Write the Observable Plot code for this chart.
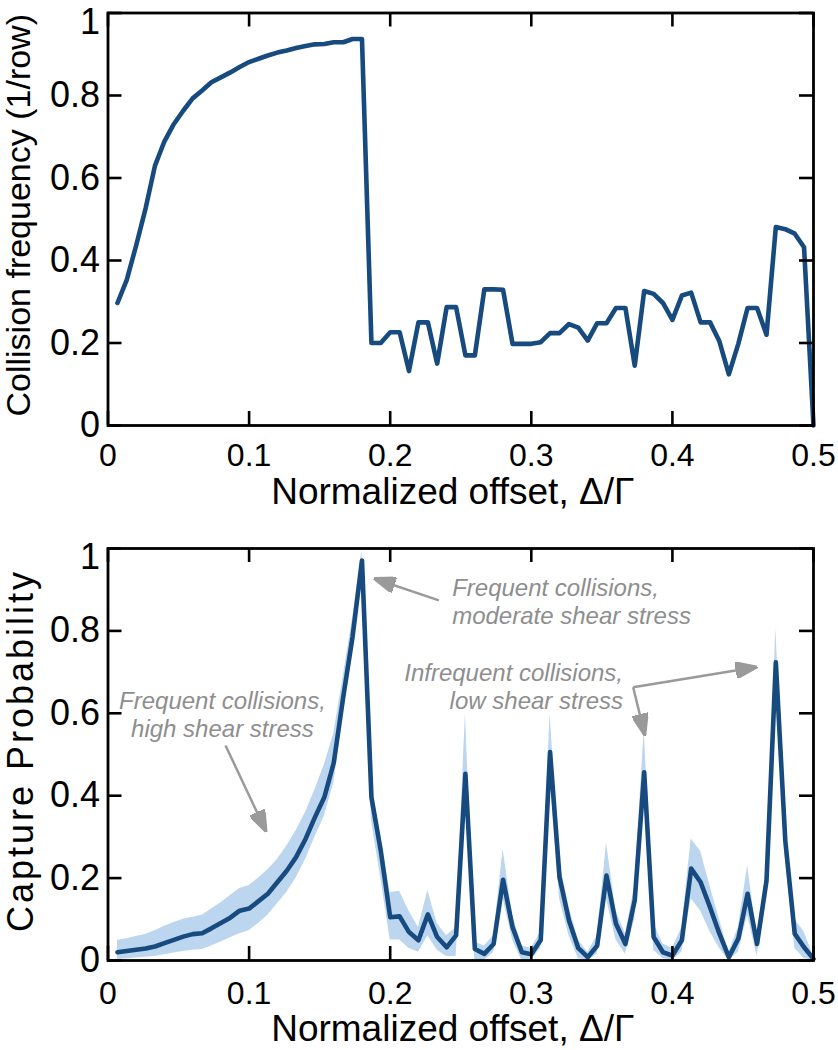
<!DOCTYPE html>
<html>
<head>
<meta charset="utf-8">
<script src="https://cdn.jsdelivr.net/npm/d3@7"></script>
<script src="https://cdn.jsdelivr.net/npm/@observablehq/plot@0.6"></script>
<style>
  html, body { margin: 0; padding: 0; background: #fff; }
  #chart { width: 838px; height: 1050px; }
  #chart svg { display: block; }
</style>
</head>
<body>
<div id="chart"></div>
<script>
// ---------- data ----------
const offset = [
  0.0067, 0.0133, 0.02, 0.0267, 0.0333, 0.04, 0.0467, 0.0533, 0.06, 0.0667,
  0.0733, 0.08, 0.0867, 0.0933, 0.1, 0.1067, 0.1133, 0.12, 0.1267, 0.1333,
  0.14, 0.1467, 0.1533, 0.16, 0.1667, 0.1733, 0.18, 0.1867, 0.1933, 0.2,
  0.2067, 0.2133, 0.22, 0.2267, 0.2333, 0.24, 0.2467, 0.2533, 0.26, 0.2667,
  0.2733, 0.28, 0.2867, 0.2933, 0.3, 0.3067, 0.3133, 0.32, 0.3267, 0.3333,
  0.34, 0.3467, 0.3533, 0.36, 0.3667, 0.3733, 0.38, 0.3867, 0.3933, 0.4,
  0.4067, 0.4133, 0.42, 0.4267, 0.4333, 0.44, 0.4467, 0.4533, 0.46, 0.4667,
  0.4733, 0.48, 0.4867, 0.4933, 0.5
];
const collisionFreq = [
  0.297, 0.353, 0.437, 0.527, 0.630, 0.689, 0.731, 0.763, 0.793, 0.812,
  0.832, 0.844, 0.856, 0.869, 0.881, 0.889, 0.897, 0.904, 0.909, 0.915,
  0.920, 0.924, 0.925, 0.929, 0.929, 0.937, 0.937, 0.200, 0.200, 0.226,
  0.226, 0.132, 0.250, 0.250, 0.150, 0.287, 0.287, 0.170, 0.170, 0.330,
  0.330, 0.329, 0.198, 0.198, 0.198, 0.202, 0.224, 0.224, 0.246, 0.237,
  0.206, 0.248, 0.248, 0.285, 0.285, 0.145, 0.326, 0.319, 0.297, 0.256,
  0.315, 0.322, 0.250, 0.250, 0.204, 0.124, 0.198, 0.285, 0.285, 0.220,
  0.481, 0.476, 0.465, 0.432, 0.000
];
const captureProb = [
  0.020, 0.023, 0.026, 0.029, 0.034, 0.042, 0.050, 0.058, 0.064, 0.066,
  0.078, 0.091, 0.104, 0.121, 0.126, 0.144, 0.162, 0.190, 0.218, 0.251,
  0.295, 0.348, 0.396, 0.480, 0.639, 0.785, 0.971, 0.396, 0.267, 0.105,
  0.107, 0.069, 0.049, 0.112, 0.057, 0.032, 0.061, 0.453, 0.028, 0.016,
  0.040, 0.196, 0.081, 0.020, 0.015, 0.050, 0.506, 0.202, 0.097, 0.030,
  0.008, 0.036, 0.206, 0.089, 0.040, 0.146, 0.457, 0.057, 0.020, 0.012,
  0.049, 0.223, 0.190, 0.129, 0.065, 0.008, 0.053, 0.162, 0.040, 0.194,
  0.724, 0.291, 0.065, 0.032, 0.004
];
const captureLow = [
  0.002, 0.004, 0.006, 0.008, 0.010, 0.014, 0.018, 0.022, 0.025, 0.027,
  0.035, 0.045, 0.055, 0.065, 0.072, 0.090, 0.110, 0.138, 0.165, 0.200,
  0.245, 0.300, 0.350, 0.430, 0.600, 0.750, 0.940, 0.340, 0.200, 0.050,
  0.050, 0.030, 0.020, 0.060, 0.025, 0.010, 0.010, 0.400, 0.000, 0.000,
  0.020, 0.150, 0.050, 0.000, 0.000, 0.030, 0.450, 0.150, 0.060, 0.005,
  0.000, 0.015, 0.150, 0.050, 0.015, 0.100, 0.400, 0.025, 0.005, 0.000,
  0.020, 0.150, 0.120, 0.070, 0.030, 0.000, 0.020, 0.110, 0.010, 0.150,
  0.680, 0.250, 0.030, 0.005, 0.000
];
const captureHigh = [
  0.049, 0.053, 0.058, 0.064, 0.072, 0.083, 0.092, 0.100, 0.105, 0.110,
  0.125, 0.140, 0.158, 0.175, 0.182, 0.200, 0.220, 0.245, 0.278, 0.315,
  0.360, 0.415, 0.475, 0.550, 0.690, 0.830, 0.995, 0.430, 0.300, 0.165,
  0.168, 0.120, 0.080, 0.170, 0.090, 0.060, 0.080, 0.600, 0.045, 0.035,
  0.060, 0.270, 0.110, 0.035, 0.030, 0.070, 0.600, 0.240, 0.130, 0.050,
  0.020, 0.060, 0.285, 0.120, 0.065, 0.180, 0.560, 0.090, 0.040, 0.030,
  0.080, 0.295, 0.265, 0.180, 0.100, 0.020, 0.080, 0.230, 0.060, 0.220,
  0.805, 0.330, 0.100, 0.070, 0.010
];
const xTicks = [0, 0.1, 0.2, 0.3, 0.4, 0.5];
const xTickLabels = ["0", "0.1", "0.2", "0.3", "0.4", "0.5"];
const yTicks = [0, 0.2, 0.4, 0.6, 0.8, 1];
const yTickLabels = ["0", "0.2", "0.4", "0.6", "0.8", "1"];
const xTitle = "Normalized offset, Δ/Γ";
const yTitleTop = "Collision frequency (1/row)";
const yTitleBottom = "Capture Probability";
const noteHigh = "Frequent collisions,\nhigh shear stress";
const noteModerate = "Frequent collisions,\nmoderate shear stress";
const noteLow = "Infrequent collisions,\nlow shear stress";

// ---------- build ----------
const topRows = offset.map((x, i) => ({x, y: collisionFreq[i]}));
const botRows = offset.map((x, i) => ({x, y: captureProb[i], lo: captureLow[i], hi: captureHigh[i]}));

const FONT = "'Liberation Sans', Arial, Helvetica, sans-serif";
const W = 838, ML = 107.5, MR = 25;
const innerW = W - ML - MR;
const TICK = 14;
const LINE = "#174a7e";
const BAND = "#bdd6f0";
const NOTE = "#8e8e8e";
const ARROW = "#9a9a9a";

function filledArrow(color) {
  return d3.create("svg:marker")
    .attr("viewBox", "0 -8 22 16")
    .attr("markerWidth", 22)
    .attr("markerHeight", 16)
    .attr("markerUnits", "userSpaceOnUse")
    .attr("refX", 20)
    .attr("refY", 0)
    .attr("orient", "auto")
    .call(m => m.append("path").attr("d", "M0,-8L22,0L0,8Z").attr("fill", color))
    .node();
}

const yTickIdxLow = [0, 1, 2, 3, 4];
const yTickIdxTop = [5];

function frameMarks(innerH, xPad, xTitleDy, yTitle, yTitleSize, yTitleDx) {
  return [
    Plot.tickX(xTicks, {x: d => d, stroke: "black", strokeWidth: 2.6, insetTop: innerH - TICK}),
    Plot.tickX(xTicks, {x: d => d, stroke: "black", strokeWidth: 2.6, insetBottom: innerH - TICK}),
    Plot.tickY(yTicks, {y: d => d, stroke: "black", strokeWidth: 2.6, insetRight: innerW - TICK}),
    Plot.tickY(yTicks, {y: d => d, stroke: "black", strokeWidth: 2.6, insetLeft: innerW - TICK}),
    Plot.axisX(xTicks, {anchor: "bottom", tickSize: 0, tickPadding: xPad, fontSize: 32,
      tickFormat: (d, i) => xTickLabels[i], label: null, fill: "black"}),
    Plot.axisY(yTickIdxLow.map(i => yTicks[i]), {anchor: "left", tickSize: 0, tickPadding: 8, fontSize: 36,
      tickFormat: (d, i) => yTickLabels[yTickIdxLow[i]], label: null, fill: "black"}),
    Plot.axisY(yTickIdxTop.map(i => yTicks[i]), {anchor: "left", tickSize: 0, tickPadding: 8, fontSize: 36,
      dy: 9, tickFormat: (d, i) => yTickLabels[yTickIdxTop[i]], label: null, fill: "black"}),
    Plot.text([xTitle], {frameAnchor: "bottom", lineAnchor: "top", textAnchor: "middle",
      dy: xTitleDy, dx: -8, fontSize: 37, fill: "black"}),
    Plot.text([yTitle], {frameAnchor: "left", rotate: -90, lineAnchor: "middle", textAnchor: "middle",
      dx: yTitleDx, dy: -4, fontSize: yTitleSize, fill: "black"}),
    Plot.frame({stroke: "black", strokeWidth: 2.8})
  ];
}

const topHeight = 520, topMT = 12.5, topMB = 95;
const topPlot = Plot.plot({
  width: W, height: topHeight,
  marginLeft: ML, marginRight: MR, marginTop: topMT, marginBottom: topMB,
  style: {fontFamily: FONT, background: "white", overflow: "visible"},
  x: {domain: [0, 0.5]},
  y: {domain: [0, 1]},
  marks: [
    Plot.lineY(topRows, {x: "x", y: "y", stroke: LINE, strokeWidth: 4.6, strokeLinejoin: "round"}),
    ...frameMarks(topHeight - topMT - topMB, 18, 52, yTitleTop, 34, -89)
  ]
});

const botHeight = 530, botMT = 28, botMB = 90;
const notesMid = [{x: 0.0811, y: 0.660, text: noteHigh}];
const notesStart = [{x: 0.2439, y: 0.934, text: noteModerate}];
const notesEnd = [{x: 0.365, y: 0.727, text: noteLow}];
const arrows = [
  {x1: 0.0833, y1: 0.522, x2: 0.1116, y2: 0.316},
  {x1: 0.2345, y1: 0.874, x2: 0.1896, y2: 0.926},
  {x1: 0.3722, y1: 0.6634, x2: 0.4589, y2: 0.7119},
  {x1: 0.3722, y1: 0.6634, x2: 0.3802, y2: 0.5502}
];
const noteStyle = {fontSize: 24, fontStyle: "italic", fill: NOTE, lineAnchor: "top", lineHeight: 1.17};

const botPlot = Plot.plot({
  width: W, height: botHeight,
  marginLeft: ML, marginRight: MR, marginTop: botMT, marginBottom: botMB,
  style: {fontFamily: FONT, background: "white", overflow: "visible"},
  x: {domain: [0, 0.5]},
  y: {domain: [0, 1]},
  marks: [
    Plot.areaY(botRows, {x: "x", y1: "lo", y2: "hi", fill: BAND}),
    Plot.lineY(botRows, {x: "x", y: "y", stroke: LINE, strokeWidth: 4.6, strokeLinejoin: "round"}),
    Plot.link(arrows, {x1: "x1", y1: "y1", x2: "x2", y2: "y2", stroke: ARROW, strokeWidth: 2.5,
      markerEnd: (color) => filledArrow(color)}),
    Plot.text(notesMid, {x: "x", y: "y", text: "text", textAnchor: "middle", ...noteStyle}),
    Plot.text(notesStart, {x: "x", y: "y", text: "text", textAnchor: "start", ...noteStyle}),
    Plot.text(notesEnd, {x: "x", y: "y", text: "text", textAnchor: "end", ...noteStyle}),
    ...frameMarks(botHeight - botMT - botMB, 21, 54, yTitleBottom, 36, -87)
  ]
});

// the reference sets the lower y-title slightly wider
d3.select(botPlot).selectAll("text")
  .filter(function () { return this.textContent === yTitleBottom; })
  .style("letter-spacing", "3px");

const chart = document.getElementById("chart");
chart.append(topPlot, botPlot);
</script>
</body>
</html>
